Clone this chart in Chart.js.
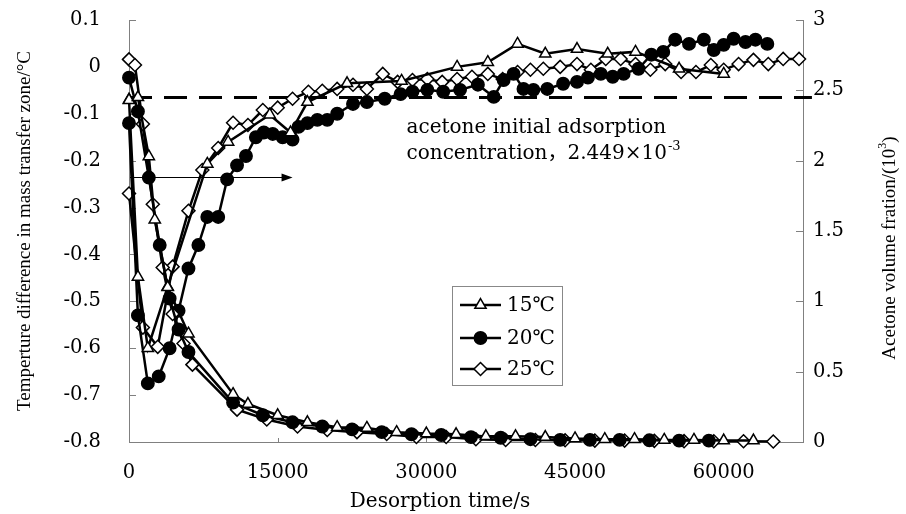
<!DOCTYPE html>
<html><head><meta charset="utf-8">
<script src="https://cdn.jsdelivr.net/npm/chart.js"></script>
<style>html,body{margin:0;padding:0;background:#fff;}canvas{display:block;}</style>
</head><body>
<canvas id="c" width="906" height="514"></canvas>
<script>
// ---- tick labels ----
const xTickValues = [0, 15000, 30000, 45000, 60000];
const xTickLabels = ['0', '15000', '30000', '45000', '60000'];
const leftTickValues = [-0.8, -0.7, -0.6, -0.5, -0.4, -0.3, -0.2, -0.1, 0, 0.1];
const leftTickLabels = ['-0.8', '-0.7', '-0.6', '-0.5', '-0.4', '-0.3', '-0.2', '-0.1', '0', '0.1'];
const rightTickValues = [0, 0.5, 1, 1.5, 2, 2.5, 3];
const rightTickLabels = ['0', '0.5', '1', '1.5', '2', '2.5', '3'];
const seriesNames = ['15℃', '20℃', '25℃'];
const initialConc = 2.449;

// ---- temperature difference (left axis) ----
const tTemp15 = [0, 900, 1900, 3900, 7900, 10000, 14200, 16300, 18000, 22000, 27500, 33100, 36200, 39200, 42000, 45200, 48300, 51100, 55500, 60000];
const vTemp15 = [-0.07, -0.448, -0.60, -0.469, -0.207, -0.16, -0.102, -0.14, -0.075, -0.035, -0.03, 0.0, 0.01, 0.049, 0.028, 0.038, 0.028, 0.032, -0.004, -0.015];

const tTemp20 = [0, 900, 1900, 3000, 4100, 5000, 6000, 7000, 7900, 9000, 9900, 10900, 11800, 12800, 13600, 14500, 15500, 16500, 17100, 18000, 19000, 20000, 21000, 22600, 24000, 25800, 27400, 28600, 30100, 31700, 33400, 35200, 36800, 37800, 38800, 39800, 40800, 42200, 43800, 45200, 46300, 47600, 48800, 49900, 51400, 52700, 53900, 55100, 56500, 58000, 59000, 60000, 61000, 62200, 63200, 64400];
const vTemp20 = [-0.12, -0.53, -0.675, -0.66, -0.60, -0.52, -0.43, -0.38, -0.32, -0.32, -0.24, -0.21, -0.19, -0.15, -0.14, -0.143, -0.15, -0.155, -0.128, -0.12, -0.113, -0.113, -0.10, -0.079, -0.075, -0.068, -0.058, -0.053, -0.049, -0.053, -0.049, -0.038, -0.064, -0.028, -0.015, -0.047, -0.049, -0.047, -0.036, -0.032, -0.023, -0.015, -0.021, -0.015, -0.004, 0.026, 0.032, 0.058, 0.049, 0.058, 0.036, 0.047, 0.06, 0.053, 0.058, 0.049];

const tTemp25 = [0, 1400, 2900, 4400, 6000, 7400, 9000, 10500, 12000, 13500, 15000, 16500, 18100, 19500, 21000, 22600, 24000, 25600, 27100, 28600, 30100, 31600, 33100, 34600, 36200, 37700, 39200, 40500, 41800, 43500, 45200, 46600, 48100, 49600, 51100, 52600, 54100, 55700, 57200, 58700, 60000, 61500, 63000, 64500, 66000, 67600];
const vTemp25 = [-0.27, -0.556, -0.597, -0.426, -0.307, -0.22, -0.173, -0.119, -0.124, -0.092, -0.087, -0.068, -0.053, -0.051, -0.047, -0.038, -0.047, -0.015, -0.032, -0.028, -0.026, -0.032, -0.026, -0.021, -0.015, -0.026, -0.011, -0.006, -0.004, 0.0, 0.006, -0.006, 0.017, 0.017, 0.006, -0.006, 0.006, -0.011, -0.011, 0.004, -0.006, 0.006, 0.015, 0.006, 0.017, 0.017];

// ---- acetone volume fraction (right axis, 10^-3) ----
const tConc15 = [0, 900, 2000, 2600, 3900, 6000, 10500, 12000, 15000, 18000, 21000, 24000, 27000, 30000, 33000, 36000, 39000, 42000, 45000, 48000, 51000, 54000, 57000, 60000, 63000];
const vConc15 = [2.43, 2.45, 2.03, 1.58, 1.10, 0.77, 0.34, 0.27, 0.19, 0.14, 0.105, 0.10, 0.07, 0.06, 0.055, 0.04, 0.04, 0.035, 0.025, 0.02, 0.02, 0.015, 0.015, 0.01, 0.01];

const tConc20 = [0, 900, 2000, 3100, 4100, 5000, 6000, 10500, 13500, 16500, 19500, 22500, 25500, 28500, 31500, 34500, 37500, 40500, 43500, 46500, 49500, 52500, 55500, 58500];
const vConc20 = [2.59, 2.35, 1.88, 1.40, 1.02, 0.80, 0.64, 0.28, 0.19, 0.14, 0.11, 0.09, 0.07, 0.055, 0.05, 0.035, 0.03, 0.02, 0.015, 0.015, 0.015, 0.012, 0.01, 0.01];

const tConc25 = [0, 600, 1400, 2400, 3400, 4400, 5500, 6400, 10900, 13900, 17000, 20000, 23000, 26000, 29000, 32000, 35000, 38000, 41000, 44000, 47000, 50000, 53000, 56000, 59000, 62000, 65000];
const vConc25 = [2.72, 2.68, 2.26, 1.69, 1.24, 0.91, 0.70, 0.55, 0.23, 0.16, 0.11, 0.085, 0.07, 0.057, 0.036, 0.036, 0.02, 0.014, 0.014, 0.012, 0.01, 0.01, 0.008, 0.006, 0.005, 0.005, 0.004];

// ---- styles ----
const axisColor = '#808080';
const tickFont = "'DejaVu Serif', serif";
const annFont = "'DejaVu Serif', 'Noto Sans CJK SC', serif";
const markerStyles = [
  {pointStyle: 'triangle', bg: '#ffffff', r: 6.5},
  {pointStyle: 'circle', bg: '#000000', r: 6.2},
  {pointStyle: 'rectRot', bg: '#ffffff', r: 6.5}
];

const zip = (t, v) => t.map((x, i) => ({x: x, y: v[i]}));

function mk(label, t, v, axis, k) {
  const m = markerStyles[k];
  return {
    label: label, data: zip(t, v), yAxisID: axis,
    borderColor: '#000', borderWidth: 2.5, tension: 0,
    pointStyle: m.pointStyle, pointRadius: m.r, pointBackgroundColor: m.bg,
    pointBorderColor: '#000', pointBorderWidth: 1.5, clip: false, order: 1
  };
}

const datasets = [
  mk(seriesNames[0], tConc15, vConc15, 'yR', 0),
  mk(seriesNames[1], tConc20, vConc20, 'yR', 1),
  mk(seriesNames[2], tConc25, vConc25, 'yR', 2),
  mk(seriesNames[0], tTemp15, vTemp15, 'yL', 0),
  mk(seriesNames[1], tTemp20, vTemp20, 'yL', 1),
  mk(seriesNames[2], tTemp25, vTemp25, 'yL', 2),
  {
    label: 'initial', data: [{x: 0, y: initialConc}, {x: 68900, y: initialConc}], yAxisID: 'yR',
    borderColor: '#000', borderWidth: 3, borderDash: [23, 12], pointRadius: 0, clip: false, order: 10
  }
];

function drawMarker(ctx, k, x, y) {
  const m = markerStyles[k];
  const r = m.r;
  ctx.beginPath();
  if (m.pointStyle === 'triangle') {
    const s = Math.sin(Math.PI * 2 / 3) * r;
    ctx.moveTo(x, y - r); ctx.lineTo(x + s, y + r / 2); ctx.lineTo(x - s, y + r / 2); ctx.closePath();
  } else if (m.pointStyle === 'circle') {
    ctx.arc(x, y, r, 0, Math.PI * 2);
  } else {
    ctx.moveTo(x - r, y); ctx.lineTo(x, y - r); ctx.lineTo(x + r, y); ctx.lineTo(x, y + r); ctx.closePath();
  }
  ctx.fillStyle = m.bg; ctx.fill();
  ctx.lineWidth = 1.5; ctx.strokeStyle = '#000'; ctx.stroke();
}

const deco = {
  id: 'deco',
  beforeDatasetsDraw(chart) {
    const {ctx, chartArea: a, scales} = chart;
    ctx.save();
    ctx.strokeStyle = axisColor; ctx.lineWidth = 1;
    ctx.beginPath();
    scales.yL.ticks.forEach(t => { const y = Math.round(scales.yL.getPixelForValue(t.value)) + 0.5; ctx.moveTo(a.left, y); ctx.lineTo(a.left + 7, y); });
    scales.yR.ticks.forEach(t => { const y = Math.round(scales.yR.getPixelForValue(t.value)) + 0.5; ctx.moveTo(a.right, y); ctx.lineTo(a.right - 7, y); });
    scales.x.ticks.forEach(t => { const x = Math.round(scales.x.getPixelForValue(t.value)) + 0.5; ctx.moveTo(x, a.bottom); ctx.lineTo(x, a.bottom - 4); });
    ctx.stroke();
    // arrow
    const ay = Math.round(scales.yL.getPixelForValue(-0.235)) + 0.5;
    const ax0 = scales.x.getPixelForValue(0) + 1;
    const ax1 = scales.x.getPixelForValue(16500);
    ctx.strokeStyle = '#000'; ctx.lineWidth = 1;
    ctx.beginPath(); ctx.moveTo(ax0, ay); ctx.lineTo(ax1 - 8, ay); ctx.stroke();
    ctx.fillStyle = '#000';
    ctx.beginPath(); ctx.moveTo(ax1, ay); ctx.lineTo(ax1 - 11, ay - 4); ctx.lineTo(ax1 - 11, ay + 4); ctx.closePath(); ctx.fill();
    ctx.restore();
  },
  afterDraw(chart) {
    const {ctx, scales} = chart;
    ctx.save();
    ctx.fillStyle = '#000';
    // x title
    ctx.font = "20px 'DejaVu Serif', serif";
    ctx.textAlign = 'center'; ctx.textBaseline = 'middle';
    ctx.fillText('Desorption time/s', 440, 502);
    // left title
    ctx.save();
    ctx.translate(25, 231); ctx.rotate(-Math.PI / 2);
    ctx.font = "19px 'Liberation Serif', serif";
    ctx.fillText('Temperture difference in mass transfer zone/°C', 0, 0);
    ctx.restore();
    // right title
    ctx.save();
    ctx.translate(890, 248); ctx.rotate(-Math.PI / 2);
    const main = 'Acetone volume fration/(10', sup = '3', tail = ')';
    ctx.font = "19px 'Liberation Serif', serif";
    const w1 = ctx.measureText(main).width, w3 = ctx.measureText(tail).width;
    ctx.font = "12px 'Liberation Serif', serif";
    const w2 = ctx.measureText(sup).width;
    let x = -(w1 + w2 + w3) / 2;
    ctx.textAlign = 'left';
    ctx.font = "19px 'Liberation Serif', serif";
    ctx.fillText(main, x, 0); x += w1;
    ctx.font = "12px 'Liberation Serif', serif";
    ctx.fillText(sup, x, -7); x += w2;
    ctx.font = "19px 'Liberation Serif', serif";
    ctx.fillText(tail, x, 0);
    ctx.restore();
    // annotation
    ctx.textAlign = 'left'; ctx.textBaseline = 'alphabetic';
    ctx.font = "20px " + annFont;
    const tx = scales.x.getPixelForValue(28000);
    ctx.fillText('acetone initial adsorption', tx, 133);
    const l2 = 'concentration，2.449×10';
    ctx.fillText(l2, tx, 159);
    const wl2 = ctx.measureText(l2).width;
    ctx.font = "13px " + annFont;
    ctx.fillText('-3', tx + wl2 + 1, 150);
    // legend
    ctx.strokeStyle = '#888'; ctx.lineWidth = 1;
    ctx.strokeRect(452.5, 286.5, 110, 99);
    const ly = [305, 338, 369];
    for (let k = 0; k < 3; k++) {
      ctx.strokeStyle = '#000'; ctx.lineWidth = 2.5;
      ctx.beginPath(); ctx.moveTo(460, ly[k]); ctx.lineTo(501, ly[k]); ctx.stroke();
      drawMarker(ctx, k, 480.5, ly[k]);
      ctx.fillStyle = '#000';
      ctx.font = "20px 'DejaVu Serif', serif";
      ctx.textBaseline = 'middle';
      ctx.fillText(seriesNames[k], 507, ly[k] + 1);
    }
    ctx.restore();
  }
};

new Chart(document.getElementById('c'), {
  type: 'line',
  data: {datasets: datasets},
  options: {
    responsive: false, animation: false,
    layout: {padding: {top: 20, left: 0, right: 0, bottom: 0}},
    plugins: {legend: {display: false}, tooltip: {enabled: false}},
    scales: {
      x: {
        type: 'linear', position: 'bottom', min: 0, max: 68000,
        afterBuildTicks: s => { s.ticks = xTickValues.map(v => ({value: v})); },
        afterFit: s => { s.height = 72; s.paddingLeft = 0; s.paddingRight = 0; },
        ticks: {callback: (v, i) => xTickLabels[i], font: {family: tickFont, size: 19.5}, color: '#000', padding: 19, maxRotation: 0, autoSkip: false},
        grid: {drawOnChartArea: false, drawTicks: false},
        border: {display: true, color: axisColor, width: 1}
      },
      yL: {
        type: 'linear', position: 'left', min: -0.8, max: 0.1,
        afterBuildTicks: s => { s.ticks = leftTickValues.map(v => ({value: v})); },
        afterFit: s => { s.width = 129; s.paddingTop = 0; s.paddingBottom = 0; },
        ticks: {callback: (v, i) => leftTickLabels[i], font: {family: tickFont, size: 19.5}, color: '#000', padding: 28, autoSkip: false},
        grid: {drawOnChartArea: false, drawTicks: false},
        border: {display: true, color: axisColor, width: 1}
      },
      yR: {
        type: 'linear', position: 'right', min: 0, max: 3,
        afterBuildTicks: s => { s.ticks = rightTickValues.map(v => ({value: v})); },
        afterFit: s => { s.width = 103; s.paddingTop = 0; s.paddingBottom = 0; },
        ticks: {callback: (v, i) => rightTickLabels[i], font: {family: tickFont, size: 19.5}, color: '#000', padding: 10, autoSkip: false},
        grid: {drawOnChartArea: false, drawTicks: false},
        border: {display: true, color: axisColor, width: 1}
      }
    }
  },
  plugins: [deco]
});
</script>
</body></html>
